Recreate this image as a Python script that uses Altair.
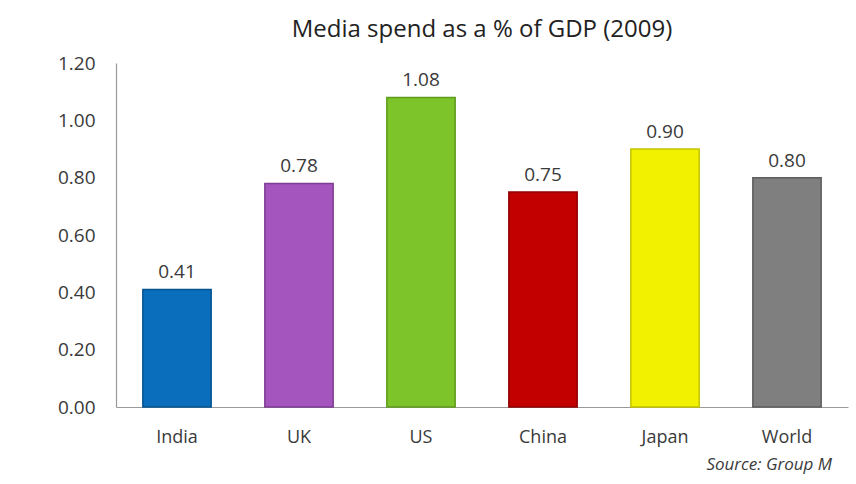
import altair as alt
import pandas as pd

countries = ["India", "UK", "US", "China", "Japan", "World"]
values = [0.41, 0.78, 1.08, 0.75, 0.90, 0.80]
colors = ["#0A6EBD", "#A455BE", "#7DC42A", "#C20000", "#F2F200", "#7F7F7F"]
strokes = ["#06548F", "#7E3C92", "#5E9A1C", "#8F0000", "#C4C400", "#5E5E5E"]
title_text = "Media spend as a % of GDP (2009)"
source_text = ["Source: Group M"]

df = pd.DataFrame({"country": countries, "value": values,
                   "label": [f"{v:.2f}" for v in values]})

FONT = "Open Sans"

x = alt.X("country:N", sort=countries, title=None,
          scale=alt.Scale(paddingInner=0.44, paddingOuter=0.22),
          axis=alt.Axis(labelAngle=0, labelFontSize=18, labelColor="#3a3a3a",
                        labelFont=FONT, labelPadding=21, ticks=False,
                        domainColor="#9a9a9a", domainWidth=1.2))
y = alt.Y("value:Q", title=None,
          scale=alt.Scale(domain=[0, 1.2], nice=False),
          axis=alt.Axis(values=[0, 0.2, 0.4, 0.6, 0.8, 1.0, 1.2], format=".2f",
                        labelFontSize=19, labelColor="#3a3a3a", labelFont=FONT,
                        labelPadding=21, ticks=False, grid=False,
                        domainColor="#9a9a9a", domainWidth=1.2))

bars = alt.Chart(df).mark_bar(strokeWidth=1.5).encode(
    x=x, y=y,
    color=alt.Color("country:N", sort=countries,
                    scale=alt.Scale(domain=countries, range=colors), legend=None),
    stroke=alt.Stroke("country:N", sort=countries,
                      scale=alt.Scale(domain=countries, range=strokes), legend=None),
)

labels = alt.Chart(df).mark_text(dy=-11, fontSize=19, font=FONT, color="#3a3a3a",
                                 baseline="alphabetic").encode(
    x=alt.X("country:N", sort=countries), y="value:Q", text="label:N")

src = alt.Chart(pd.DataFrame({"t": source_text})).mark_text(
    fontSize=17, font=FONT, fontStyle="italic", color="#3a3a3a",
    align="right", baseline="middle").encode(
    x=alt.value(716), y=alt.value(402), text="t:N")

chart = alt.layer(bars, labels, src).properties(
    width=732, height=344,
    title=alt.TitleParams(title_text, fontSize=24, font=FONT, fontWeight="normal",
                          color="#222222", offset=12, anchor="middle"),
    autosize=alt.AutoSizeParams(type="none"),
    padding={"left": 116, "top": 63, "right": 8, "bottom": 77},
    background="white",
).configure_view(stroke=None)

chart.save("out.html", embed_options={"renderer": "svg", "actions": False})
